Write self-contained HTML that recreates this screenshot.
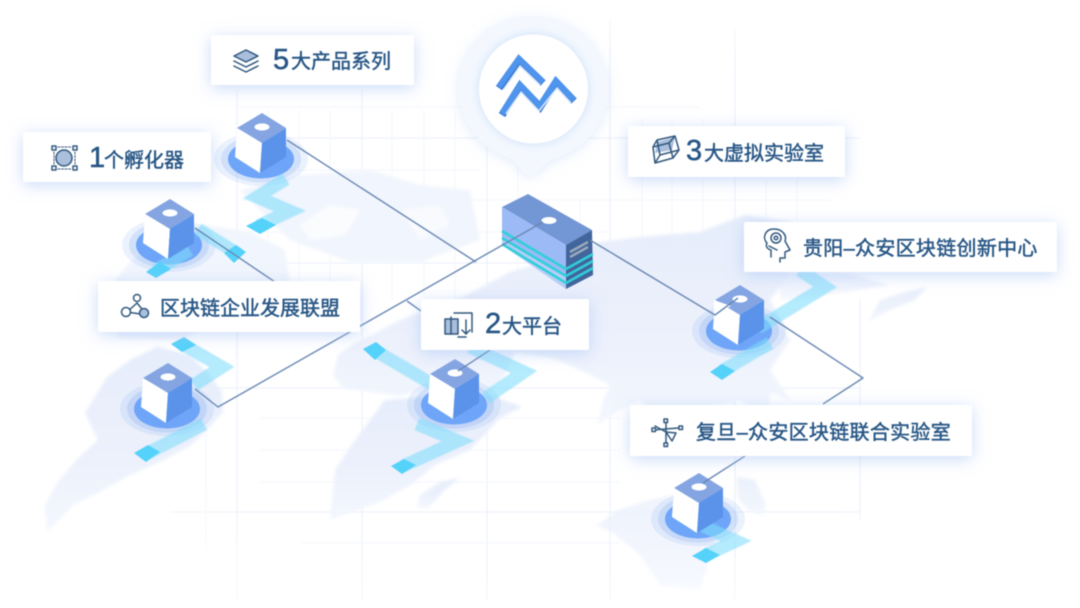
<!DOCTYPE html>
<html lang="zh">
<head>
<meta charset="utf-8">
<title>区块链生态</title>
<style>
html,body{margin:0;padding:0;background:#fff;width:1080px;height:608px;overflow:hidden}
svg{display:block;filter:blur(.4px)}
text{font-family:"Liberation Sans","Noto Sans CJK SC",sans-serif;fill:#275685;font-size:20px;stroke:#275685;stroke-width:.45}
.d{font-size:29px;stroke-width:.5}
.w{letter-spacing:.3px}
.i{fill:none;stroke:#33597f;stroke-width:1.5;stroke-linejoin:round;stroke-linecap:round}
</style>
</head>
<body>
<svg width="1080" height="608" viewBox="0 0 1080 608" xmlns="http://www.w3.org/2000/svg">
<defs>
<filter id="b" x="-10%" y="-10%" width="120%" height="120%"><feGaussianBlur stdDeviation="1.5"/></filter>
<filter id="b0" x="-10%" y="-10%" width="120%" height="120%"><feGaussianBlur stdDeviation=".5"/></filter>
<filter id="s" x="-20%" y="-60%" width="140%" height="220%"><feDropShadow dx="0" dy="3" stdDeviation="8" flood-color="#a6c2f5" flood-opacity=".6"/></filter>
<filter id="ps" x="-20%" y="-20%" width="140%" height="140%"><feDropShadow dx="0" dy="2" stdDeviation="6" flood-color="#c4d7f8" flood-opacity=".5"/></filter>
<filter id="ih" x="-20%" y="-20%" width="140%" height="140%"><feDropShadow dx="0" dy="0" stdDeviation="5" flood-color="#b9d3f7" flood-opacity=".7"/></filter>
<radialGradient id="fade" cx="50%" cy="50%" r="60%"><stop offset="0" stop-color="#fff"/><stop offset=".7" stop-color="#fff"/><stop offset="1" stop-color="#000"/></radialGradient>
<mask id="m"><rect width="1080" height="608" fill="url(#fade)"/></mask>
<linearGradient id="mapg" x1="0" y1="0" x2="0" y2="1"><stop offset="0" stop-color="#e6edfb"/><stop offset=".6" stop-color="#ecf1fc"/><stop offset="1" stop-color="#f4f7fe"/></linearGradient>
<g id="disc">
<ellipse cx="-1" cy="46" rx="47" ry="27" fill="#5d93f0" opacity=".12"/>
<ellipse cx="-1" cy="46" rx="40" ry="23.500" fill="#5d93f0" opacity=".18"/>
<ellipse cx="-1" cy="46" rx="33" ry="19.500" fill="#6ea5f8"/>
</g>
<g id="cube">
<polygon points="0,0 24,15 0,30 -25,15" fill="#84a5e2"/>
<polygon points="-25,15 0,30 -2,60 -27,44" fill="#fff"/>
<polygon points="0,30 24,15 24,44 -2,60" fill="#5b93ea"/>
<ellipse cx="0" cy="14" rx="7.500" ry="3.600" fill="#fff"/>
</g>
</defs>

<rect width="1080" height="608" fill="#fff"/>

<!-- grid -->
<g mask="url(#m)" stroke="#edf2fc" fill="none">
<path d="M237 90V600M362 90V600M487 30V600M610 20V600M735 30V600M860 300V520" stroke-width="1.300"/>
<path d="M240 138H860M240 263H860M200 388H860M170 512H860" stroke-width="1.300"/>
<path d="M206 420V560M268 110V300M299 110V300M330 110V300M392 110V300M424 110V300M455 110V300M518 40V280M549 200V280M580 200V280M642 120V280M672 120V280M703 120V280M766 180V280M797 180V220" stroke="#f4f7fe"/>
<path d="M240 107H480M240 170H480M240 200H610M240 232H610M610 200H830M260 418H620M260 450H620M260 482H620M300 543H620M600 107H700" stroke="#f4f7fe"/>
</g>

<!-- map -->
<g fill="url(#mapg)" filter="url(#b)">
<path d="M157 347 130 360 107 377 85 413 98 440 78 458 57 483 45 505 47 532 57 522 73 505 103 490 128 476 160 462 190 446 207 430 223 412 222 392 207 372 190 355Z"/>
<path d="M330 520 335 470 348 450 370 420 385 400 440 396 490 395 522 407 500 418 470 450 435 465 412 484 378 503Z"/>
<path d="M417 508 420 495 440 482 460 478 445 490 428 508Z"/>
<path d="M333 375 338 355 352 345 400 320 465 296 510 272 560 258 600 242 650 236 700 232 745 215 790 222 800 240 790 262 785 280 770 300 790 340 770 370 790 400 770 392 768 418 740 400 690 410 660 420 640 400 620 410 597 425 605 395 612 386 570 365 552 358 515 352 505 375 490 392 430 388 400 396 343 388Z"/>
<path d="M596 526 618 510 650 500 700 490 720 490 715 540 700 590 660 585 640 555 612 532Z" opacity=".7"/>
<path d="M737 477 755 480 766 505 762 516 748 510 738 498Z" opacity=".8"/>
<path d="M868 322 880 300 905 292 927 287 915 300 890 310Z" opacity=".9"/>
<path d="M780 272 850 274 890 285 830 294 800 300 780 300Z" opacity=".8"/>
</g>
<g fill="#f1f5fd" filter="url(#b)">
<path d="M100 300 130 262 150 248 205 225 250 232 285 250 290 284 180 340 120 338Z"/>
<path d="M240 190 300 175 370 170 420 185 470 190 480 240 420 262 350 262 290 240Z"/>
</g>
<g fill="#fff" filter="url(#b)">
<path d="M300 225 330 205 360 210 345 235 310 240Z" opacity=".7"/>
<path d="M400 210 440 205 450 225 420 240Z" opacity=".5"/>
</g>

<!-- discs -->
<use href="#disc" x="262" y="113"/><use href="#disc" x="170" y="199"/><use href="#disc" x="168" y="363"/>
<use href="#disc" x="455" y="359"/><use href="#disc" x="740" y="285"/><use href="#disc" x="699" y="473"/>

<!-- cyan routes -->
<g fill="none" stroke="#7fdcfb" stroke-width="13" stroke-linejoin="miter" stroke-miterlimit="6" opacity=".58" filter="url(#b0)">
<path d="M286 179 257 197 290 211 258 226"/>
<path d="M198 229 238 254M190 250 156 270"/>
<path d="M184 345 222 367 194 385M204 424 148 453"/>
<path d="M374 350 432 384M470 347 524 372 486 398M417 424 458 441 403 466"/>
<path d="M758 328 825 287 800 270M770 343 722 371"/>
<path d="M690 520 736 541 706 555"/>
</g>
<g fill="#55d2fa">
<polygon points="246,226 262,218 276,225 260,234"/>
<polygon points="224,253 236,245 246,252 234,263"/>
<polygon points="146,272 160,262 171,269 156,278"/>
<polygon points="171,344 184,337 196,345 182,352"/>
<polygon points="134,453 148,445 160,452 146,462"/>
<polygon points="363,349 376,342 386,350 375,360"/>
<polygon points="391,466 404,459 416,465 402,474"/>
<polygon points="710,372 722,364 735,371 722,380"/>
<polygon points="692,556 706,548 720,555 706,563"/>
</g>

<!-- cubes -->
<use href="#cube" x="262" y="113"/><use href="#cube" x="170" y="199"/><use href="#cube" x="168" y="363"/>
<use href="#cube" x="455" y="359"/><use href="#cube" x="740" y="285"/><use href="#cube" x="699" y="473"/>
<polygon points="714,300 731,306 714,315" fill="#fff"/>

<!-- server -->
<g>
<polygon points="502,207 528,194 592,230 566,245" fill="#7396d4"/>
<polygon points="502,207 566,245 566,289 502,245" fill="#9cbaf5"/>
<polygon points="566,245 592,230 593,275 566,289" fill="#41659c"/>
<polygon points="502,238 566,276 566,289 502,245" fill="#b7cdf7"/>
<g fill="none" stroke="#30cfd9" stroke-width="2.600">
<path d="M502 231 566 269 593 254"/>
<path d="M502 238 566 276 593 261"/>
<path d="M502 244 566 283 593 268"/>
</g>
<path d="M570 252 588 242M570 257 588 247" stroke="#9aa9b8" stroke-width="2.500" fill="none"/>
<ellipse cx="549" cy="220.500" rx="7.500" ry="3.500" fill="#fff"/>
</g>

<!-- connectors -->
<g fill="none" stroke="#6a89b4" stroke-width="1.400" stroke-linejoin="round">
<path d="M287 140 476 262"/>
<path d="M543 222 218 407 195 389"/>
<path d="M195 228 275 282"/>
<path d="M407 301 421 311"/>
<path d="M490 350 458 371"/>
<path d="M590 240 715 315 738 298"/>
<path d="M770 317 863 378 823 404"/>
<path d="M745 456 703 483"/>
</g>

<!-- pin -->
<path d="M534 17A72 72 0 0 1 556 158Q546 162 536 173Q530 178 524 173Q516 163 510 158A72 72 0 0 1 534 17Z" fill="#f4f8fe" filter="url(#ps)"/>
<circle cx="533.500" cy="89" r="54.500" fill="#fff" filter="url(#ih)"/>
<g fill="none" stroke-linejoin="miter" stroke-linecap="butt">
<path d="M499 88 519 60 543 83M502 115 520 86 540 107 556 82 574 101" stroke="#2f6fc9" stroke-width="7.500"/>
<path d="M499 87 519 59 543 82M502 114 520 85 540 106 556 81 574 100" stroke="#4f95ee" stroke-width="6"/>
<path d="M504 89 520 66 540 85M506 114 521 92 539 111 557 88 571 103" stroke="#dbe9fc" stroke-width="1.600"/>
</g>

<!-- cards -->
<g fill="#fff" filter="url(#s)">
<rect x="211" y="35" width="203" height="50" rx="2"/>
<rect x="23" y="132" width="188" height="50" rx="2"/>
<rect x="98" y="281" width="262" height="51" rx="2"/>
<rect x="421" y="299" width="168" height="51" rx="2"/>
<rect x="628" y="126" width="217" height="51" rx="2"/>
<rect x="744" y="222" width="313" height="50" rx="2"/>
<rect x="630" y="405" width="342" height="51" rx="2"/>
</g>

<!-- icons -->
<g class="i">
<polygon points="246,50 258,56 246,62 234,56" fill="#a9bfdc"/>
<path d="M234 61 246 67 258 61M234 66 246 72 258 66"/>
<circle cx="64" cy="158" r="8" fill="#a9bfdc"/>
<rect x="52" y="146" width="4" height="4"/><rect x="73" y="146" width="4" height="4"/><rect x="52" y="166" width="4" height="4"/><rect x="73" y="166" width="4" height="4"/>
<path d="M58 147H71M58 169H71M54 152V164M75 152V164" stroke-dasharray="2 1.500" stroke-width="1"/>
<path d="M137 303 127 312 147 315Z"/>
<circle cx="137" cy="298" r="3.500" fill="#fff"/><circle cx="126" cy="312" r="4.500" fill="#fff"/><circle cx="144" cy="313" r="4.500" fill="#a9bfdc"/>
<rect x="445" y="319" width="13" height="15" fill="#a9bfdc"/>
<path d="M454 313H472V332M466 337H458M451 317V334M466 320V334L462 330M466 334 470 330"/>
<polygon points="657,142 675,137 672,150 655,153" fill="#a9bfdc" stroke="none"/>
<path d="M653 147 669 143 673 158 655 163ZM653 147 657 140 675 136 669 143M673 158 679 150 675 136M655 163 660 155 679 150M657 140 660 155"/>
<path d="M771 257V250C764 248 767 243 767 243 762 238 765 229 774 229 783 229 787 236 785 241L790 250 785 252V258L780 258V262"/>
<circle cx="776" cy="238" r="5"/><circle cx="776" cy="238" r="1.800"/>
<path d="M769 246 777 250"/>
<path d="M666 421V443M653 430 678 428M666 432 655 426M666 432 672 441 676 433 666 432Z"/>
<rect x="664" y="419" width="3.500" height="3.500" fill="#fff"/><rect x="664" y="443" width="3.500" height="3.500" fill="#fff"/>
<rect x="652" y="428" width="3.500" height="3.500" fill="#fff"/><rect x="679" y="426" width="3.500" height="3.500" fill="#fff"/>
</g>

<!-- labels -->
<text x="273" y="69"><tspan class="d">5</tspan></text><text x="291" y="68">大产品系列</text>
<text x="89" y="167"><tspan class="d">1</tspan></text><text x="104" y="167">个孵化器</text>
<text x="160" y="315">区块链企业发展联盟</text>
<text x="485" y="333"><tspan class="d">2</tspan></text><text x="502" y="333">大平台</text>
<text x="686" y="160"><tspan class="d">3</tspan></text><text x="704" y="160">大虚拟实验室</text>
<text x="803" y="255" class="w">贵阳–众安区块链创新中心</text>
<text x="696" y="439" class="w">复旦–众安区块链联合实验室</text>
</svg>
</body>
</html>
